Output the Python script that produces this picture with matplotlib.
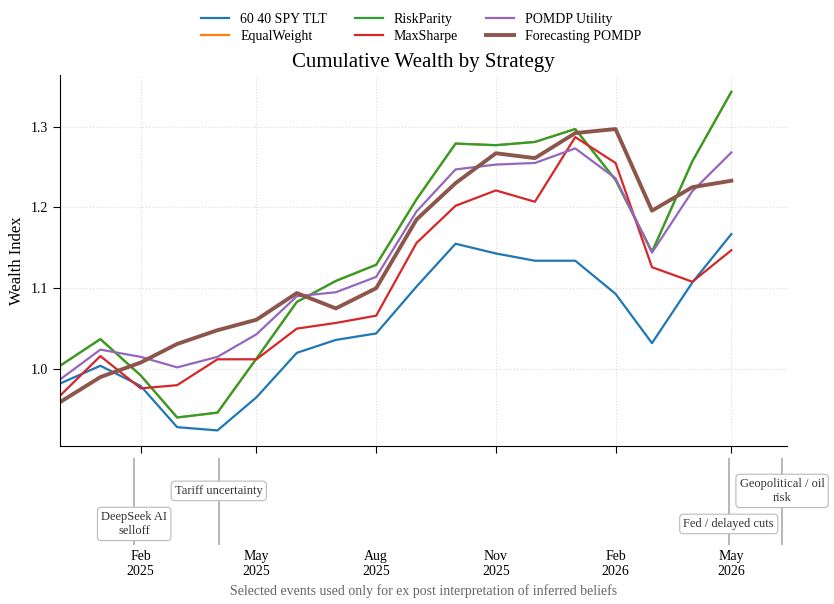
import matplotlib
matplotlib.use('Agg')
import matplotlib.pyplot as plt
import matplotlib.dates as mdates
import pandas as pd

plt.rcParams['font.family'] = ['Liberation Serif', 'DejaVu Serif']

# monthly observations
dates = pd.date_range('2024-12-01', '2026-05-01', freq='MS')

spy_tlt = [0.982, 1.004, 0.979, 0.928, 0.924, 0.965, 1.020, 1.036, 1.044, 1.102,
           1.155, 1.143, 1.134, 1.134, 1.093, 1.032, 1.107, 1.167]
risk_parity = [1.004, 1.037, 0.992, 0.940, 0.946, 1.013, 1.083, 1.109, 1.129, 1.210,
               1.279, 1.277, 1.281, 1.297, 1.234, 1.145, 1.257, 1.343]
equal_weight = list(risk_parity)
max_sharpe = [0.967, 1.016, 0.976, 0.980, 1.012, 1.012, 1.050, 1.057, 1.066, 1.156,
              1.202, 1.221, 1.207, 1.287, 1.255, 1.126, 1.108, 1.147]
pomdp_utility = [0.987, 1.024, 1.015, 1.002, 1.015, 1.043, 1.090, 1.095, 1.114, 1.195,
                 1.247, 1.253, 1.255, 1.273, 1.236, 1.144, 1.220, 1.268]
forecasting_pomdp = [0.959, 0.990, 1.008, 1.031, 1.048, 1.061, 1.094, 1.075, 1.100, 1.185,
                     1.230, 1.267, 1.261, 1.292, 1.297, 1.196, 1.225, 1.233]

series = [
    ('60 40 SPY TLT', spy_tlt),
    ('EqualWeight', equal_weight),
    ('RiskParity', risk_parity),
    ('MaxSharpe', max_sharpe),
    ('POMDP Utility', pomdp_utility),
    ('Forecasting POMDP', forecasting_pomdp),
]

event_dates = pd.to_datetime(['2025-01-27', '2025-04-02', '2026-04-29', '2026-06-09'])
event_labels = ['DeepSeek AI\nselloff', 'Tariff uncertainty', 'Fed / delayed cuts',
                'Geopolitical / oil\nrisk']
event_levels = [0.24, 0.62, 0.24, 0.62]

fig = plt.figure(figsize=(8.34, 6.04), dpi=100)
ax = fig.add_axes([0.072, 0.262, 0.872, 0.614])
ax_ev = fig.add_axes([0.072, 0.098, 0.872, 0.144], sharex=ax)

for i, (name, vals) in enumerate(series):
    lw = 2.8 if name == 'Forecasting POMDP' else 1.6
    ax.plot(dates, vals, color='C%d' % i, lw=lw, label=name)

ax.set_xlim(pd.Timestamp('2024-12-01'), pd.Timestamp('2026-06-13'))
ax.set_ylim(0.905, 1.364)
ax.set_yticks([1.0, 1.1, 1.2, 1.3])
ax.xaxis.set_major_locator(mdates.MonthLocator(bymonth=[2, 5, 8, 11]))
ax.xaxis.set_major_formatter(mdates.DateFormatter('%b\n%Y'))
ax.tick_params(axis='x', labelbottom=False, length=5)
ax.tick_params(axis='y', labelsize=10, length=5)
ax.grid(True, ls=':', color='#dddddd', lw=0.8)
ax.spines['top'].set_visible(False)
ax.spines['right'].set_visible(False)
ax.set_ylabel('Wealth Index', fontsize=12)
ax.set_title('Cumulative Wealth by Strategy', fontsize=15, pad=6)

fig.legend(loc='upper center', bbox_to_anchor=(0.505, 1.0), ncol=3, frameon=False,
           fontsize=10, labelspacing=0.3)

# event panel
for d, lab, lev in zip(event_dates, event_labels, event_levels):
    ax_ev.axvline(d, color='#aaaaaa', lw=1.2)
    ax_ev.text(d, lev, lab, ha='center', va='center', fontsize=9, color='#333333',
               clip_on=False,
               bbox=dict(boxstyle='round,pad=0.3', fc='white', ec='#bbbbbb', lw=0.8))
ax_ev.set_ylim(0, 1)
ax_ev.set_yticks([])
for s in ax_ev.spines.values():
    s.set_visible(False)
ax_ev.tick_params(axis='x', length=0, labelsize=10, pad=4)
ax_ev.set_xlabel('Selected events used only for ex post interpretation of inferred beliefs',
                 fontsize=10, color='#666666', labelpad=4)

fig.savefig('out.png', dpi=100)
